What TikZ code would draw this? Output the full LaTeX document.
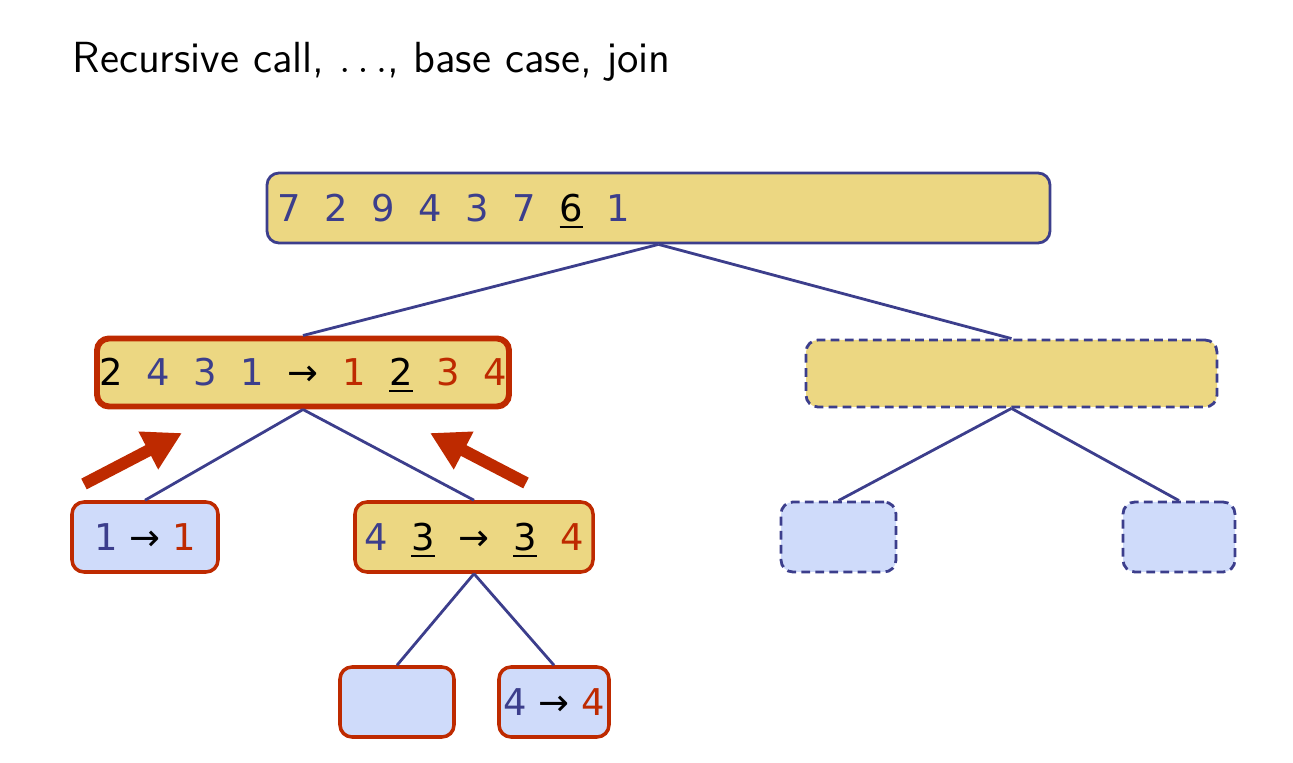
\documentclass[tikz,border=0pt]{standalone}
\usepackage{fontspec}
\newfontfamily\digitfont{DejaVu Sans}
\usetikzlibrary{arrows.meta}

\definecolor{treeblue}{RGB}{60,62,140}
\definecolor{callred}{RGB}{190,42,0}
\definecolor{seqyellow}{RGB}{236,215,130}
\definecolor{leafblue}{RGB}{207,219,250}

\newcommand{\bl}[1]{\textcolor{treeblue}{#1}}
\newcommand{\rd}[1]{\textcolor{callred}{#1}}
\newcommand{\pv}[1]{\underline{#1}}
\newcommand{\gap}{\hspace{0.64em}}

\tikzset{
  seq/.style={draw=treeblue, fill=seqyellow, line width=0.8pt,
    rounded corners=0.12cm, minimum height=0.70cm, inner sep=0pt,
    text height=0.27cm, text depth=0cm,
    font=\digitfont\fontsize{10.5}{12}\selectfont},
  leaf/.style={seq, fill=leafblue},
  done/.style={draw=callred, line width=1pt},
  active/.style={draw=callred, line width=1.7pt},
  todo/.style={dash pattern=on 2.5pt off 1.5pt},
  edge/.style={draw=treeblue, line width=0.8pt},
  back/.style={draw=callred, line width=0.12cm,
    -{Triangle[length=0.38cm,width=0.40cm]}}
}

\begin{document}
\begin{tikzpicture}
  \useasboundingbox (0,0) rectangle (12.93,-7.63);

  % Title
  \node[anchor=base west, inner sep=0pt, font=\sffamily\fontsize{12.4}{14}\selectfont] (title)
    at (0.72,-0.73) {Recursive call, $\ldots$, base case, join};

  % Sequences of the tree
  \node[seq, text width=7.63cm, align=left, inner xsep=0.10cm] (root) at (6.585,-2.08)
    {\bl{7\gap 2\gap 9\gap 4\gap 3\gap 7\gap}\pv{6}\gap\bl{1}};
  \node[seq, active, minimum width=4.12cm, minimum height=0.68cm] (left) at (3.03,-3.725)
    {2\gap\bl{4\gap 3\gap 1}\gap →\gap\rd{1}\gap\pv{2}\gap\rd{3\gap 4}};
  \node[seq, todo, minimum width=4.11cm, minimum height=0.67cm] (right) at (10.115,-3.735) {};

  \node[leaf, done, minimum width=1.46cm] (leftleft) at (1.45,-5.37) {\bl{1} → \rd{1}};
  \node[seq, done, minimum width=2.38cm] (leftright) at (4.74,-5.37)
    {\bl{4}\gap\pv{3}\gap →\gap\pv{3}\gap\rd{4}};
  \node[leaf, todo, minimum width=1.15cm] (rightleft) at (8.385,-5.37) {};
  \node[leaf, todo, minimum width=1.12cm] (rightright) at (11.79,-5.37) {};

  \node[leaf, done, minimum width=1.14cm] (lrleft) at (3.97,-7.02) {};
  \node[leaf, done, minimum width=1.10cm] (lrright) at (5.54,-7.02) {\bl{4} → \rd{4}};

  % Tree edges
  \draw[edge] (root.south) -- (left.north);
  \draw[edge] (root.south) -- (right.north);
  \draw[edge] (left.south) -- (leftleft.north);
  \draw[edge] (left.south) -- (leftright.north);
  \draw[edge] (right.south) -- (rightleft.north);
  \draw[edge] (right.south) -- (rightright.north);
  \draw[edge] (leftright.south) -- (lrleft.north);
  \draw[edge] (leftright.south) -- (lrright.north);

  % Return arrows
  \coordinate (ltail) at (0.84,-4.84);
  \coordinate (lhead) at (1.82,-4.33);
  \coordinate (rtail) at (5.26,-4.83);
  \coordinate (rhead) at (4.30,-4.33);
  \draw[back] (ltail) -- (lhead);
  \draw[back] (rtail) -- (rhead);
\end{tikzpicture}
\end{document}
